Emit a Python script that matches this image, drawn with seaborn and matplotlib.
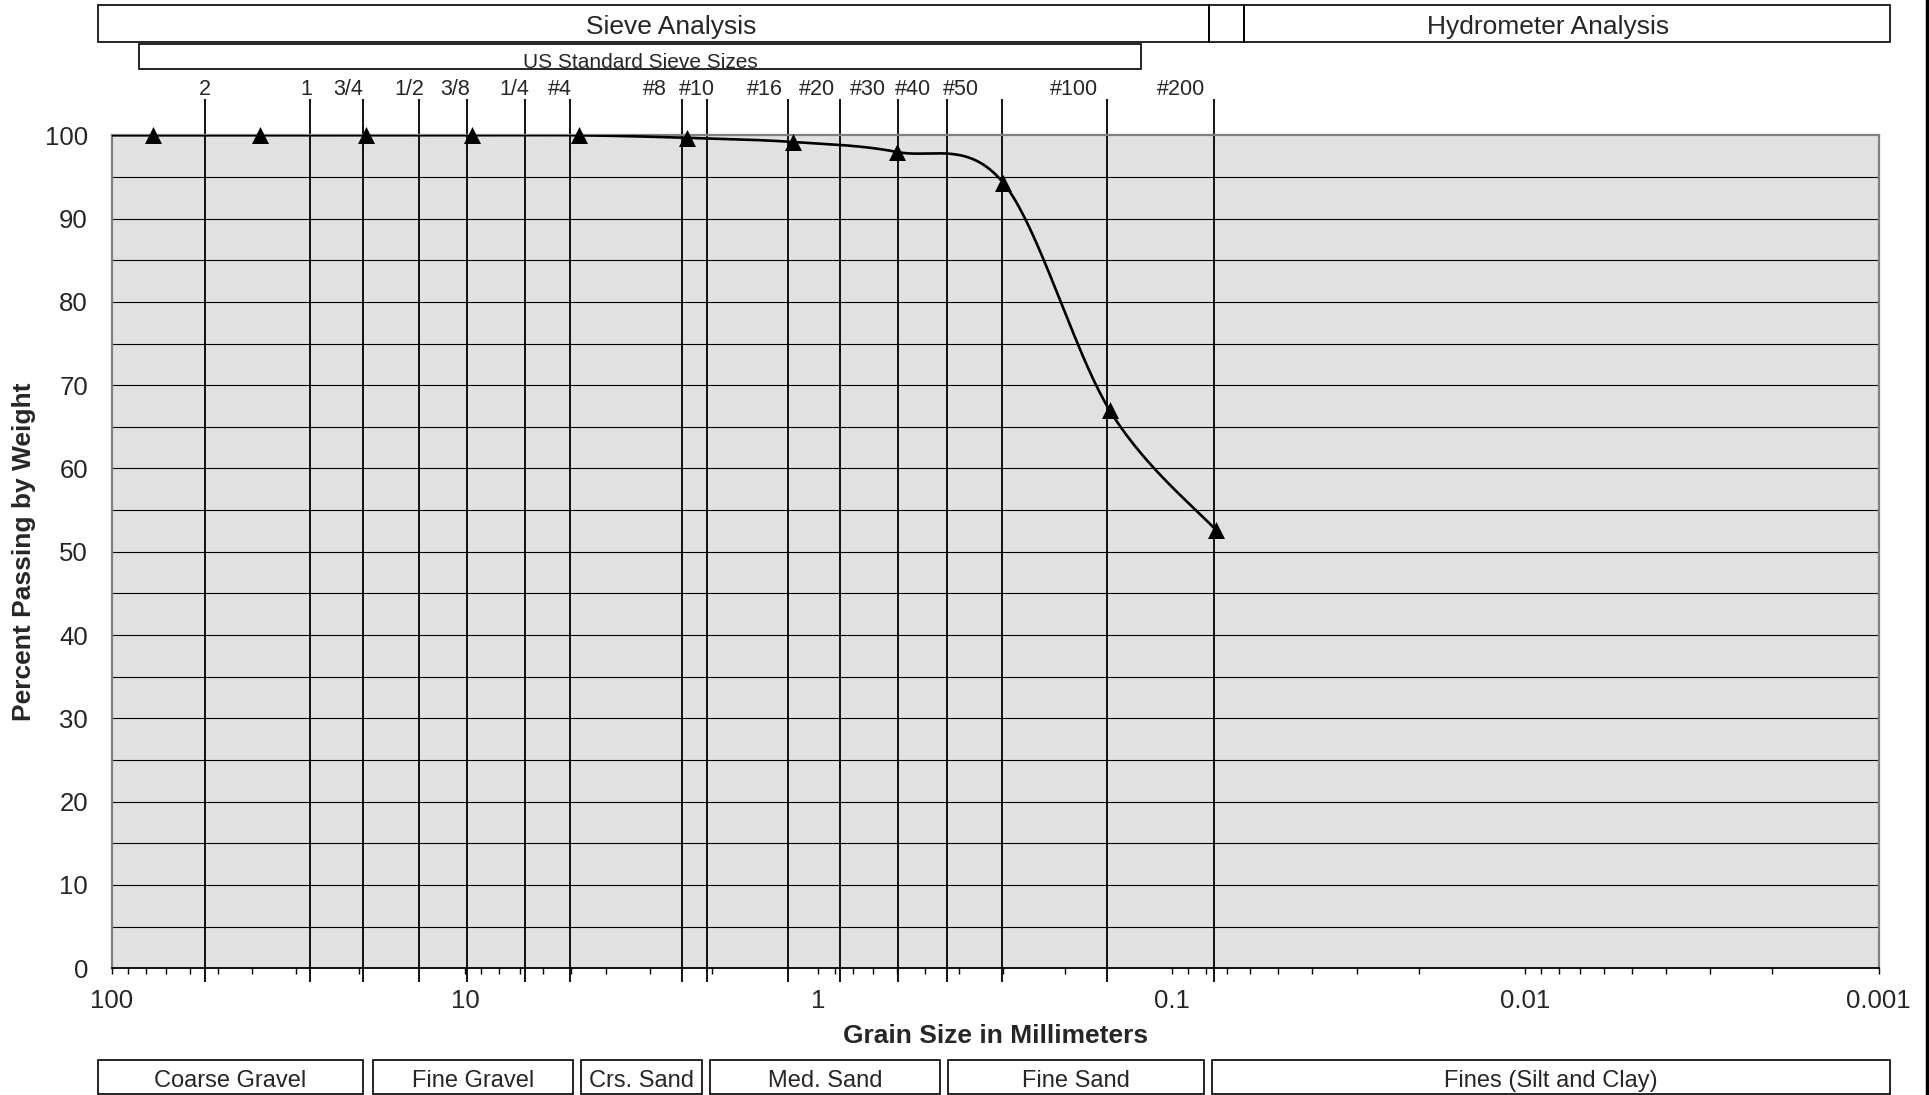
import numpy as np
import matplotlib
matplotlib.use("Agg")
import matplotlib.pyplot as plt
import seaborn as sns
from matplotlib.patches import Rectangle
from matplotlib.lines import Line2D
from matplotlib.ticker import FixedLocator, LogLocator, FuncFormatter, NullFormatter

# --- data ---
grain_mm = [101.6, 76.2, 38.1, 19.05, 9.525, 4.75, 2.36, 1.18, 0.6, 0.3, 0.15, 0.075]
passing_pct = [100, 100, 100, 100, 100, 100, 99.7, 99.2, 98.0, 94.3, 67.0, 52.6]

sieve_labels = ["2", "1", "3/4", "1/2", "3/8", "1/4", "#4", "#8", "#10",
                "#16", "#20", "#30", "#40", "#50", "#100", "#200"]
sieve_line_mm = [54.3, 27.5, 19.5, 13.5, 9.85, 6.77, 5.03, 2.43, 2.06,
                 1.219, 0.869, 0.597, 0.434, 0.303, 0.153, 0.0760]
sieve_label_mm = [54.5, 28.2, 21.4, 14.4, 10.7, 7.27, 5.38, 2.91, 2.21,
                  1.418, 1.009, 0.724, 0.541, 0.396, 0.189, 0.0944]

x_ticks = [100, 10, 1, 0.1, 0.01, 0.001]
y_ticks = [0, 10, 20, 30, 40, 50, 60, 70, 80, 90, 100]

soil_classes = ["Coarse Gravel", "Fine Gravel", "Crs. Sand", "Med. Sand",
                "Fine Sand", "Fines (Silt and Clay)"]

W, H = 1929, 1095


def smooth_curve(xs, ys, n=40):
    """Excel-style smoothed line: Catmull-Rom bezier in (log x, y) space."""
    P = np.column_stack([np.log10(xs), ys]).astype(float)
    out = []
    t = np.linspace(0, 1, n)[:, None]
    for i in range(len(P) - 1):
        p0 = P[max(i - 1, 0)]
        p1, p2 = P[i], P[i + 1]
        p3 = P[min(i + 2, len(P) - 1)]
        c1 = p1 + (p2 - p0) / 6
        c2 = p2 - (p3 - p1) / 6
        seg = ((1 - t) ** 3) * p1 + 3 * ((1 - t) ** 2) * t * c1 \
            + 3 * (1 - t) * t ** 2 * c2 + t ** 3 * p2
        out.append(seg if i == 0 else seg[1:])
    out = np.vstack(out)
    return 10 ** out[:, 0], out[:, 1]


def fig_box(x0, x1, y0, y1, text=None, size=17, tx=None, ty=None):
    """Draw a labelled box in pixel coords of the full figure."""
    fig.add_artist(Rectangle((x0 / W, 1 - y1 / H), (x1 - x0) / W, (y1 - y0) / H,
                             transform=fig.transFigure, fill=False,
                             edgecolor="black", linewidth=1.2))
    if text:
        cx = (x0 + x1) / 2 if tx is None else tx
        cy = (y0 + y1) / 2 if ty is None else ty
        fig.text(cx / W, 1 - cy / H, text, ha="center", va="center", fontsize=size)


sns.set_theme(style="white")
plt.rcParams["font.family"] = ["Liberation Sans", "DejaVu Sans"]

fig = plt.figure(figsize=(W / 100, H / 100), dpi=100)
ax = fig.add_axes([111.6 / W, 1 - 968.3 / H, (1878.6 - 111.6) / W, (968.3 - 135.3) / H])
ax.set_facecolor("#e1e1e1")

# horizontal grid every 5 %
for yv in range(5, 100, 5):
    ax.axhline(yv, color="black", linewidth=0.8, zorder=1)

# sieve lines, running above and below the plot area
xform = ax.get_xaxis_transform()
ax.vlines(sieve_line_mm, -0.016, 1.044, transform=xform, color="black",
          linewidth=1.3, clip_on=False, zorder=2)
for lab, xm in zip(sieve_labels, sieve_label_mm):
    ax.text(xm, 1.055, lab, transform=xform, ha="center", va="center", fontsize=15.5)

# gradation curve
sx, sy = smooth_curve(grain_mm, passing_pct)
sns.lineplot(x=sx, y=sy, sort=False, estimator=None, color="black",
             linewidth=1.9, ax=ax, zorder=4)
mk_x = [g for g in grain_mm if g <= 100]
mk_y = [p for g, p in zip(grain_mm, passing_pct) if g <= 100]
sns.scatterplot(x=mk_x, y=mk_y, marker="^", s=150, color="black",
                edgecolor="black", linewidth=0, ax=ax, zorder=5, clip_on=False)

ax.set_xscale("log")
ax.set_xlim(100, 0.001)
ax.set_ylim(0, 100)
ax.xaxis.set_major_locator(FixedLocator(x_ticks))
ax.xaxis.set_major_formatter(FuncFormatter(lambda v, p: f"{v:g}"))
ax.xaxis.set_minor_locator(LogLocator(base=10, subs=np.arange(2, 10)))
ax.xaxis.set_minor_formatter(NullFormatter())
ax.set_yticks(y_ticks)
ax.tick_params(axis="x", which="both", direction="out", length=4.5, width=1,
               color="black", bottom=True, labelsize=18.5, pad=10.5)
ax.tick_params(axis="y", length=0, labelsize=18.5, pad=17)

for side in ["left", "top", "right"]:
    ax.spines[side].set_color("#808080")
    ax.spines[side].set_linewidth(1.6)
ax.spines["bottom"].set_color("black")
ax.spines["bottom"].set_linewidth(1.3)

ax.set_xlabel("Grain Size in Millimeters", fontsize=19, fontweight="bold", labelpad=8)
ax.set_ylabel("Percent Passing by Weight", fontsize=19, fontweight="bold")
ax.yaxis.set_label_coords(-0.043, 0.5)

# header boxes
fig_box(97.7, 1208.5, 5, 42.3, "Sieve Analysis", 19, tx=671, ty=27)
fig_box(1208.5, 1244, 5, 42.3)
fig_box(1244, 1889.8, 5, 42.3, "Hydrometer Analysis", 19, tx=1548, ty=27)
fig_box(139.1, 1141, 44.3, 69.3, "US Standard Sieve Sizes", 15, tx=640, ty=62.5)

# soil classification boxes along the bottom
class_edges = [(97.7, 363), (372.5, 572.8), (581, 702.2),
               (709.9, 940), (947.8, 1204.4), (1212, 1890.4)]
for name, (x0, x1) in zip(soil_classes, class_edges):
    fig_box(x0, x1, 1060, 1094, name, 17, ty=1081)

fig.add_artist(Line2D([1926.5 / W] * 2, [0, 1], transform=fig.transFigure,
                      color="black", linewidth=2.5))

fig.savefig("out.png", dpi=100)
plt.close(fig)
